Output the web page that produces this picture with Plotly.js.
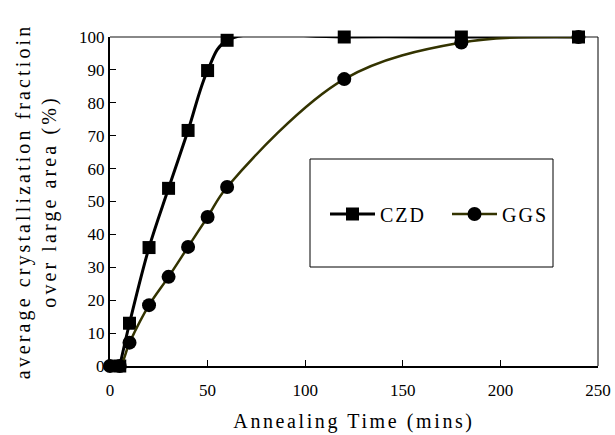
<!DOCTYPE html>
<html>
<head>
<meta charset="utf-8">
<script src="https://cdn.plot.ly/plotly-3.0.1.min.js"></script>
<style>
html,body{margin:0;padding:0;background:#fff;}
#chart{width:615px;height:435px;}
#chart .ytitle { letter-spacing: 3.1px; }
#chart .xtitle { letter-spacing: 2.6px; }
#chart .legendtext { letter-spacing: 2px; }
</style>
</head>
<body>
<div id="chart"></div>
<script>
const czdTime = [5, 10, 20, 30, 40, 50, 60, 120, 180, 240];
const czdFraction = [0, 13, 36, 54, 71.6, 89.8, 99, 100, 100, 100];
const ggsTime = [0, 5, 10, 20, 30, 40, 50, 60, 120, 180, 240];
const ggsFraction = [0, 0, 7.1, 18.5, 27.1, 36.2, 45.3, 54.4, 87.2, 98.3, 100];
const xTicks = [0, 50, 100, 150, 200, 250];
const yTicks = [0, 10, 20, 30, 40, 50, 60, 70, 80, 90, 100];

const serif = '"Liberation Serif", "DejaVu Serif", serif';

const traces = [
  {
    x: czdTime, y: czdFraction, name: 'CZD', type: 'scatter', mode: 'lines+markers',
    line: {color: '#000000', width: 3, shape: 'spline', smoothing: 1},
    marker: {symbol: 'square', size: 13, color: '#000000'},
    cliponaxis: false
  },
  {
    x: ggsTime, y: ggsFraction, name: 'GGS', type: 'scatter', mode: 'lines+markers',
    line: {color: '#333300', width: 2.5, shape: 'spline', smoothing: 1},
    marker: {symbol: 'circle', size: 14, color: '#000000'},
    cliponaxis: false
  }
];

const layout = {
  width: 615, height: 435,
  margin: {l: 110, r: 17, t: 37, b: 69},
  paper_bgcolor: '#ffffff', plot_bgcolor: '#ffffff',
  showlegend: true,
  legend: {
    orientation: 'h', x: (447 - 110) / 488, y: (366 - 214) / 329, xanchor: 'center', yanchor: 'middle',
    font: {family: serif, size: 20, color: '#000'},
    bgcolor: 'rgba(0,0,0,0)', borderwidth: 0, itemwidth: 45,
    entrywidth: 62, entrywidthmode: 'pixels'
  },
  xaxis: {
    range: [0, 250], tickvals: xTicks, ticktext: xTicks.map(String),
    ticks: 'inside', ticklen: 6, tickcolor: '#000', tickwidth: 1,
    showline: true, linecolor: '#000', linewidth: 2, mirror: false,
    showgrid: false, zeroline: false, ticklabelstandoff: 8,
    tickfont: {family: serif, size: 17, color: '#000'},
    title: {text: 'Annealing Time (mins)', font: {family: serif, size: 20, color: '#000'}, standoff: 15}
  },
  yaxis: {
    range: [0, 100], tickvals: yTicks, ticktext: yTicks.map(String),
    ticks: 'inside', ticklen: 6, tickcolor: '#000', tickwidth: 1,
    showline: true, linecolor: '#000', linewidth: 2, mirror: false,
    showgrid: false, zeroline: false,
    tickfont: {family: serif, size: 17, color: '#000'},
    title: {text: 'average crystallization fractioin<br>over large area (%)', font: {family: serif, size: 20, color: '#000'}, standoff: 17}
  },
  shapes: [
    {type: 'line', xref: 'paper', yref: 'paper', x0: 0, x1: 1, y0: 1, y1: 1, line: {color: '#888888', width: 2}, layer: 'below'},
    {type: 'line', xref: 'paper', yref: 'paper', x0: 1, x1: 1, y0: 0, y1: 1, line: {color: '#000000', width: 1}, layer: 'below'},
    {type: 'rect', xref: 'paper', yref: 'paper',
     x0: (310 - 110) / 488, x1: (553 - 110) / 488, y0: (366 - 267) / 329, y1: (366 - 159) / 329,
     line: {color: '#000', width: 1}, fillcolor: 'rgba(0,0,0,0)', layer: 'above'}
  ]
};

Plotly.newPlot('chart', traces, layout, {displayModeBar: false, staticPlot: true});
</script>
</body>
</html>
